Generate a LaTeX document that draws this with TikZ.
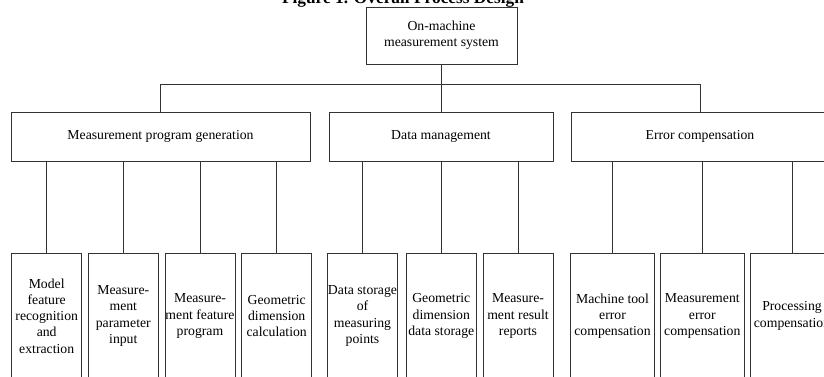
\documentclass[tikz,border=0pt]{standalone}
\usepackage{fontspec}
\setmainfont{Liberation Serif}
\usetikzlibrary{positioning}

\tikzset{
	box/.style={draw=black!80, line width=0.75pt, align=center, inner sep=0pt,
		font=\fontsize{10.3}{12.2}\selectfont},
	leaf/.style={box, minimum width=52.5pt, minimum height=94.5pt},
	wideleaf/.style={box, minimum width=62.6pt, minimum height=94.5pt},
	branch/.style={box, minimum height=36.75pt},
	link/.style={draw=black!80, line width=0.75pt}
}

\begin{document}
\begin{tikzpicture}[x=0.75pt,y=-0.75pt]
		\useasboundingbox (0,0) rectangle (824,376);
		
		%Title
		\node[font=\bfseries\fontsize{13}{15}\selectfont, anchor=base, inner sep=0pt] (title) at (403,3.5) {Figure 1. Overall Process Design};
		
		%Root
		\node[box, minimum width=113.25pt, minimum height=42.75pt] (root) at (441.5,35.5) {On-machine\\measurement system};
		\coordinate (bus) at (441.5,84);
		
		%Branches
		\node[branch, minimum width=224.25pt] (gen) at (160.5,136.5) {Measurement program generation};
		\node[branch, minimum width=168pt] (data) at (441,136.5) {Data management};
		\node[branch, minimum width=193.5pt] (err) at (700,136.5) {Error compensation};
		
		%Leaves
		\node[leaf] (model) at (46.7,316) {Model\\feature\\recognition\\and\\extraction};
		\node[leaf] (param) at (123.3,316) {Measure-\\ment\\parameter\\input};
		\node[leaf] (feat) at (200,316) {Measure-\\ment feature\\program};
		\node[leaf] (calc) at (276.7,316) {Geometric\\dimension\\calculation};
		\node[leaf] (points) at (362.5,316) {Data storage\\of\\measuring\\points};
		\node[leaf] (store) at (441.3,316) {Geometric\\dimension\\data storage};
		\node[leaf] (report) at (518,316) {Measure-\\ment result\\reports};
		\node[wideleaf] (tool) at (612.5,316) {Machine tool\\error\\compensation};
		\node[wideleaf] (meas) at (702.3,316) {Measurement\\error\\compensation};
		\node[wideleaf] (proc) at (792,316) {Processing\\compensation};
		
		% Edges
		\draw[link] (root.south) -- (bus);
		\foreach \b in {gen,data,err}
		\draw[link] (\b.north) |- (bus);
		
		\foreach \l/\b in {model/gen,param/gen,feat/gen,calc/gen,points/data,store/data,report/data,tool/err,meas/err,proc/err}
		\draw[link] (\l.north) -- (\l.north |- \b.south);
	\end{tikzpicture}
\end{document}
